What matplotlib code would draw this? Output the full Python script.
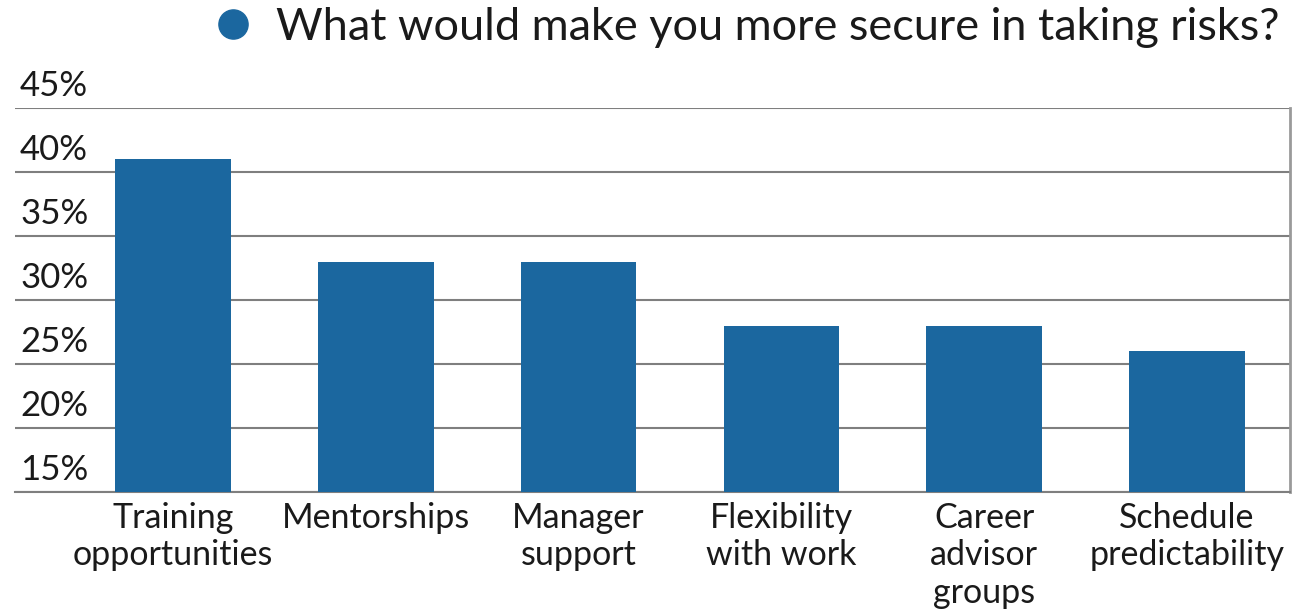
import numpy as np
import matplotlib
matplotlib.use("Agg")
import matplotlib.pyplot as plt
from matplotlib.lines import Line2D
import matplotlib.transforms as mtransforms

categories = ["Training\nopportunities", "Mentorships", "Manager\nsupport",
              "Flexibility\nwith work", "Career\nadvisor\ngroups", "Schedule\npredictability"]
values = [41, 33, 33, 28, 28, 26]
yticks = [15, 20, 25, 30, 35, 40, 45]
series_name = "What would make you more secure in taking risks?"

bar_color = "#1b679f"
grid_color = "#7f7f7f"

plt.rcParams['font.family'] = ['Lato', 'DejaVu Sans']

fig = plt.figure(figsize=(13.12, 6.13), dpi=100)
ax = fig.add_axes([15 / 1312, 1 - 492 / 613, 1275 / 1312, 384 / 613])

x = np.arange(len(categories))
ax.bar(x, [v - 15 for v in values], bottom=15, width=0.57, color=bar_color, zorder=3)

ax.set_xlim(-0.779, 5.508)
ax.set_ylim(15, 45)
ax.set_yticks(yticks)
ax.yaxis.grid(True, color=grid_color, linewidth=1.5, zorder=1)
ax.tick_params(axis='y', length=0, labelleft=False)
ax.tick_params(axis='x', length=0, pad=7)
ax.set_xticks(x)
ax.set_xticklabels(categories, fontsize=24.5, color="#1a1a1a", linespacing=1.22, va='top')

for s in ["top", "left"]:
    ax.spines[s].set_visible(False)
ax.spines["bottom"].set_color(grid_color)
ax.spines["bottom"].set_linewidth(1.5)
ax.spines["right"].set_color("#9a9a9a")
ax.spines["right"].set_linewidth(2)

# y labels sit above their gridlines
trans = mtransforms.blended_transform_factory(ax.transAxes, ax.transData)
offset = mtransforms.ScaledTranslation(0, 6 / 100, fig.dpi_scale_trans)
for t in yticks:
    ax.text(5 / 1275, t, f"{t}%", transform=trans + offset, fontsize=25,
            color="#1a1a1a", ha="left", va="bottom")

# legend entry at the top
handle = Line2D([], [], marker="o", color=bar_color, linestyle="none", markersize=21)
fig.legend([handle], [series_name], loc="upper right", bbox_to_anchor=(1302 / 1312, 1.025),
           frameon=False, fontsize=32.5, handletextpad=-0.05, borderaxespad=0.1,
           labelcolor="#1a1a1a")

fig.savefig("out.png", dpi=100)
